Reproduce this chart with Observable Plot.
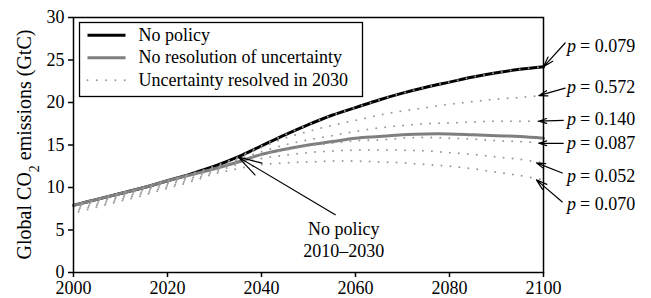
<!DOCTYPE html>
<html><head><meta charset="utf-8">
<script src="https://cdn.jsdelivr.net/npm/d3@7"></script>
<script src="https://cdn.jsdelivr.net/npm/@observablehq/plot@0.6"></script>
<style>
body{margin:0;background:#fff}
#chart svg, #chart svg text, #chart svg tspan {font-family: "Liberation Serif", "DejaVu Serif", serif !important;}
</style>
</head><body><div id="chart"></div>
<script>
// ---- data ----
const years = [2000,2005,2010,2015,2020,2025,2030,2035,2040,2045,2050,2055,2060,2065,2070,2075,2080,2085,2090,2095,2100];
const noPolicy     = [7.9,8.6,9.3,10.0,10.8,11.6,12.5,13.6,14.9,16.2,17.4,18.5,19.4,20.3,21.1,21.8,22.4,23.0,23.5,23.9,24.2];
const noResolution = [7.9,8.6,9.3,10.0,10.8,11.5,12.2,13.0,13.9,14.5,15.0,15.4,15.8,16.0,16.2,16.3,16.3,16.2,16.1,16.0,15.8];
// uncertainty resolved in 2030, one series per outcome
const resolvedP079 = [7.9,8.6,9.3,10.0,10.8,11.6,12.5,13.6,14.9,16.2,17.4,18.5,19.4,20.3,21.1,21.8,22.4,23.0,23.5,23.9,24.2];
const resolvedP572 = [7.75,8.45,9.15,9.85,10.65,11.45,12.35,13.45,14.7,15.8,16.6,17.3,17.9,18.5,19.0,19.4,19.8,20.1,20.4,20.6,20.8];
const resolvedP140 = [7.6,8.3,9.0,9.7,10.5,11.3,12.2,13.3,14.2,15.0,15.6,16.1,16.6,17.0,17.3,17.5,17.6,17.7,17.8,17.8,17.8];
const resolvedP087 = [7.4,8.1,8.8,9.5,10.3,11.1,12.0,13.0,13.8,14.4,14.9,15.2,15.5,15.6,15.8,15.9,15.8,15.7,15.5,15.4,15.2];
const resolvedP052 = [7.2,7.9,8.6,9.3,10.1,10.9,11.8,12.7,13.4,13.8,14.1,14.3,14.4,14.4,14.4,14.3,14.1,13.9,13.6,13.3,12.9];
const resolvedP070 = [7.0,7.7,8.4,9.1,9.9,10.7,11.6,12.2,12.7,12.9,13.0,13.1,13.1,13.0,12.9,12.7,12.5,12.2,11.8,11.4,10.9];
const resolvedSeries = [resolvedP079,resolvedP572,resolvedP140,resolvedP087,resolvedP052,resolvedP070];
const pLabels = ["0.079","0.572","0.140","0.087","0.052","0.070"];
const legendItems = ["No policy","No resolution of uncertainty","Uncertainty resolved in 2030"];
const xTicks = [2000,2020,2040,2060,2080,2100];
const yTicks = [0,5,10,15,20,25,30];
// annotation anchors (data units)
const pLabelYear = [2105,2105,2105,2105,2105,2105];
const pLabelValue = [26.6,21.8,18.05,15.2,11.3,8.0];
const pArrowTailYear = [2104.6,2104.6,2104.2,2104.2,2104.0,2104.0];
const pArrowTailValue = [27.0,21.7,17.9,15.2,11.7,8.3];
const pArrowHeadYear = [2100,2099,2099,2099,2098.5,2098.5];
const noteLines = ["No policy","2010–2030"];
const noteYear = 2057.5;
const noteValue = [5.1,2.5];
const noteTail = {year: 2055.7, value: 6.8};
const noteHeadYear = 2035;

// ---- tables ----
const lineRows = (vals, key) => years.map((y,i)=>({year:y, value:vals[i], key}));
const npRows = lineRows(noPolicy,"np");
const nrRows = lineRows(noResolution,"nr");
const pRows = pLabels.map((p,i)=>({
  p, ly: pLabelYear[i], lv: pLabelValue[i],
  x1: pArrowTailYear[i], y1: pArrowTailValue[i],
  x2: pArrowHeadYear[i], y2: resolvedSeries[i][resolvedSeries[i].length-1]
}));
const noteRows = noteLines.map((t,i)=>({t, year: noteYear, value: noteValue[i]}));
const noteArrow = [{x1: noteTail.year, y1: noteTail.value, x2: noteHeadYear, y2: noPolicy[years.indexOf(noteHeadYear)]}];

const GRAY = "#7f7f7f", DOT = "#999999";
const M = {left: 73, right: 108, top: 17, bottom: 26};
const W = 651, H = 298;

const dottedMarks = resolvedSeries.map((s,k)=>
  Plot.line(lineRows(s,"r"+k), {x:"year", y:"value", stroke:DOT, strokeWidth:2,
    strokeDasharray:"0,9", strokeDashoffset: k*0.7, strokeLinecap:"round", curve:"catmull-rom"}));

const chart = Plot.plot({
  width: W, height: H,
  marginLeft: M.left, marginRight: M.right, marginTop: M.top, marginBottom: M.bottom,
  style: {fontFamily: "Liberation Serif", fontSize: "18px", background: "white", color: "black"},
  x: {domain: [2000,2100], label: null},
  y: {domain: [0,30], label: null},
  marks: [
    Plot.axisX({ticks: xTicks, tickFormat: d=>String(d), tickSize: 5, tickPadding: 4, label: null, strokeWidth: 1.5}),
    Plot.axisY({ticks: yTicks, tickSize: 5, tickPadding: 4, label: null, strokeWidth: 1.5}),
    Plot.line(npRows, {x:"year", y:"value", stroke:"black", strokeWidth:3, curve:"catmull-rom"}),
    Plot.line(nrRows, {x:"year", y:"value", stroke:GRAY, strokeWidth:3, curve:"catmull-rom"}),
    ...dottedMarks,
    Plot.frame({stroke:"black", strokeWidth:1.5}),
    Plot.arrow(pRows, {x1:"x1", y1:"y1", x2:"x2", y2:"y2", stroke:"black", strokeWidth:1.2, headLength:15, headAngle:34}),
    Plot.text(pRows, {x:"ly", y:"lv", text:()=>"p", textAnchor:"start", fontStyle:"italic", fill:"black"}),
    Plot.text(pRows, {x:"ly", y:"lv", text:d=>"= "+d.p, textAnchor:"start", dx:13, fill:"black"}),
    Plot.arrow(noteArrow, {x1:"x1", y1:"y1", x2:"x2", y2:"y2", stroke:"black", strokeWidth:1.2, headLength:31, headAngle:32}),
    Plot.text(noteRows, {x:"year", y:"value", text:"t", textAnchor:"middle", fill:"black"})
  ]
});

// legend (drawn in SVG after the plot)
const svg = d3.select(chart);
const g = svg.append("g").attr("text-anchor","start");
const bx = M.left + 6.5, by = M.top + 5.5;
g.append("rect").attr("x",bx).attr("y",by).attr("width",283).attr("height",74)
  .attr("fill","white").attr("stroke","black").attr("stroke-width",1.3);
const st = [{s:"black",w:3,d:null},{s:GRAY,w:3,d:null},{s:DOT,w:2,d:"0,9.3"}];
legendItems.forEach((t,i)=>{
  const y = by + 12.7 + i*22.5;
  const ln = g.append("line").attr("x1",bx+8).attr("x2",bx+46).attr("y1",y).attr("y2",y)
    .attr("stroke",st[i].s).attr("stroke-width",st[i].w).attr("stroke-linecap", st[i].d ? "round" : "butt");
  if (st[i].d) ln.attr("stroke-dasharray",st[i].d);
  g.append("text").attr("x",bx+59).attr("y",y).attr("dy","0.32em").attr("fill","black")
    .attr("text-anchor","start").text(t);
});
// y-axis label with subscript
const cy = (M.top + H - M.bottom)/2;
const yl = svg.append("text").attr("transform",`translate(31,${cy}) rotate(-90)`)
  .attr("text-anchor","middle").attr("font-size","20px").attr("fill","black");
yl.append("tspan").text("Global CO");
yl.append("tspan").attr("baseline-shift","sub").attr("font-size","14px").text("2");
yl.append("tspan").text(" emissions (GtC)");

document.getElementById("chart").appendChild(chart);
</script>
</body></html>
